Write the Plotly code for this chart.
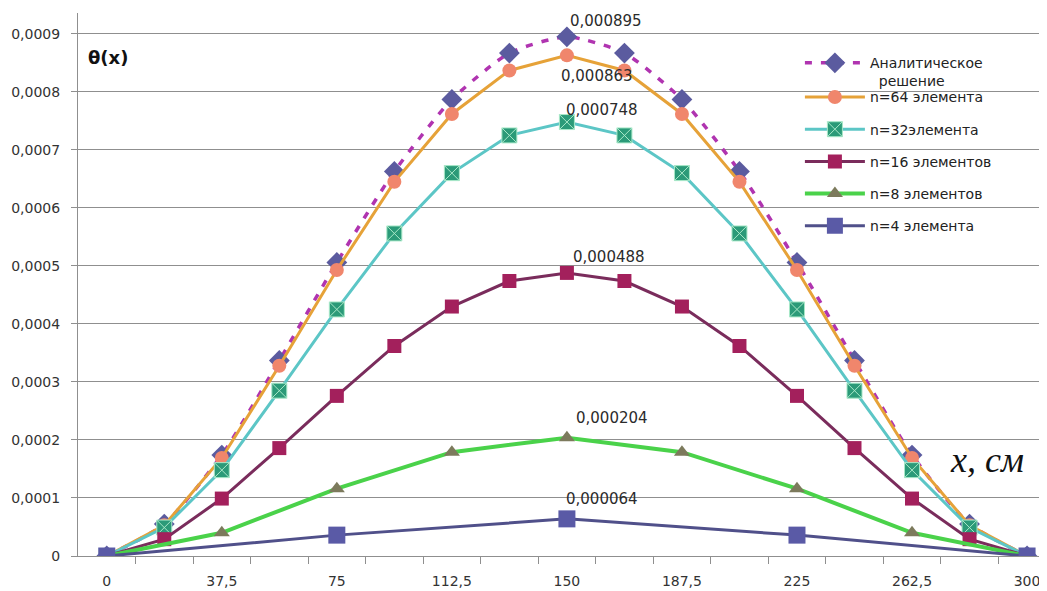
import plotly.graph_objects as go

# ---------------- data ----------------
x_nodes = [0, 18.75, 37.5, 56.25, 75, 93.75, 112.5, 131.25, 150,
           168.75, 187.5, 206.25, 225, 243.75, 262.5, 281.25, 300]

analytic = [0, 0.000055, 0.000174, 0.000337, 0.000506, 0.000663, 0.000787, 0.000867, 0.000895,
            0.000867, 0.000787, 0.000663, 0.000506, 0.000337, 0.000174, 0.000055, 0]
n64 = [0, 0.000053, 0.000169, 0.000328, 0.000493, 0.000645, 0.000762, 0.000837, 0.000863,
       0.000837, 0.000762, 0.000645, 0.000493, 0.000328, 0.000169, 0.000053, 0]
n32 = [0, 0.000049, 0.000148, 0.000285, 0.000425, 0.000556, 0.000660, 0.000725, 0.000748,
       0.000725, 0.000660, 0.000556, 0.000425, 0.000285, 0.000148, 0.000049, 0]
n16 = [0, 0.000029, 0.000099, 0.000186, 0.000276, 0.000362, 0.000430, 0.000474, 0.000488,
       0.000474, 0.000430, 0.000362, 0.000276, 0.000186, 0.000099, 0.000029, 0]
x8 = [0, 37.5, 75, 112.5, 150, 187.5, 225, 262.5, 300]
n8 = [0, 0.000040, 0.000116, 0.000179, 0.000204, 0.000179, 0.000116, 0.000040, 0]
x4 = [0, 75, 150, 225, 300]
n4 = [0, 0.000036, 0.000064, 0.000036, 0]

x_ticks = [0, 37.5, 75, 112.5, 150, 187.5, 225, 262.5, 300]
x_ticktext = ["0", "37,5", "75", "112,5", "150", "187,5", "225", "262,5", "300"]
y_ticks = [0, 0.0001, 0.0002, 0.0003, 0.0004, 0.0005, 0.0006, 0.0007, 0.0008, 0.0009]
y_ticktext = ["0", "0,0001", "0,0002", "0,0003", "0,0004", "0,0005",
              "0,0006", "0,0007", "0,0008", "0,0009"]
names = ["Аналитическое<br>\u00a0\u00a0решение", "n=64 элемента", "n=32элемента",
         "n=16 элементов", "n=8 элементов", "n=4 элемента"]

FONT = "DejaVu Sans"
GRID = "#8f8f8f"

fig = go.Figure()

fig.add_trace(go.Scatter(
    x=x_nodes, y=analytic, name=names[0], legend="legend", mode="lines+markers",
    line=dict(color="#b034b0", width=3.5, dash="7px,9px", shape="spline", smoothing=0.6),
    marker=dict(symbol="diamond", size=16, color="#5b5b9f")))
fig.add_trace(go.Scatter(
    x=x_nodes, y=n64, name=names[1], legend="legend2", legendgroup="b", mode="lines+markers",
    line=dict(color="#e6a238", width=3),
    marker=dict(symbol="circle", size=14, color="#f0866c")))
fig.add_trace(go.Scatter(
    x=x_nodes, y=n32, name=names[2], legend="legend2", legendgroup="c", mode="lines+markers",
    line=dict(color="#5cc6c6", width=3),
    marker=dict(symbol="square-x", size=15, color="#2b9a78",
                line=dict(color="#a8e8c8", width=1))))
fig.add_trace(go.Scatter(
    x=x_nodes, y=n16, name=names[3], legend="legend2", legendgroup="d", mode="lines+markers",
    line=dict(color="#7a2c5c", width=3),
    marker=dict(symbol="square", size=14, color="#a3205c")))
fig.add_trace(go.Scatter(
    x=x8, y=n8, name=names[4], legend="legend2", legendgroup="e", mode="lines+markers",
    line=dict(color="#4ad24a", width=4),
    marker=dict(symbol="triangle-up", size=14, color="#7c7a5c")))
fig.add_trace(go.Scatter(
    x=x4, y=n4, name=names[5], legend="legend2", legendgroup="f", mode="lines+markers",
    line=dict(color="#50508a", width=3),
    marker=dict(symbol="square", size=17, color="#5a5aa6")))

# data labels at the peak (x = 150)
def fmt(v):
    return f"{v:.6f}".replace(".", ",")

peak_idx = x_nodes.index(150)
labels = [
    (analytic[peak_idx], "bottom", 1, 5),
    (n64[peak_idx], "top", -8, -10),
    (n32[peak_idx], "bottom", -3, 1),
    (n16[peak_idx], "bottom", 4, 5),
    (n8[x8.index(150)], "bottom", 7, 9),
    (n4[x4.index(150)], "bottom", -3, 9),
]
for v, ya, xs, ys in labels:
    fig.add_annotation(x=150, y=v, text=fmt(v), showarrow=False,
                       xanchor="left", yanchor=ya, xshift=xs, yshift=ys,
                       font=dict(family=FONT, size=15, color="#2b2b2b"))

# axis titles
fig.add_annotation(x=0.008, y=0.918, xref="paper", yref="paper", text="<b>θ(x)</b>",
                   showarrow=False, xanchor="left", yanchor="middle",
                   font=dict(family=FONT, size=18, color="#111111"))
fig.add_annotation(x=0.898, y=0.176, xref="paper", yref="paper", text="<i>x, см</i>",
                   showarrow=False, xanchor="left", yanchor="middle",
                   font=dict(family="Liberation Serif", size=36, color="#111111"))

# white legend box behind the legends (covers gridlines) and gridline gap
fig.add_shape(type="rect", xref="paper", yref="y", x0=0.745, x1=1.0,
              y0=0.00055, y1=0.00085, fillcolor="white", line=dict(width=0),
              layer="between")
fig.add_shape(type="rect", xref="paper", yref="y", x0=0.836, x1=1.0,
              y0=0.00048, y1=0.00052, fillcolor="white", line=dict(width=0),
              layer="between")

legend_common = dict(xanchor="left", yanchor="top", bgcolor="rgba(0,0,0,0)", borderwidth=0,
                     itemwidth=60, valign="top",
                     font=dict(family=FONT, size=14, color="#222222"))

# body has an 8px default margin, so the figure is sized to fit the window
fig.update_layout(
    width=1039, height=583,
    margin=dict(l=70, r=0, t=5, b=35),
    paper_bgcolor="white", plot_bgcolor="white",
    font=dict(family=FONT, size=14, color="#333333"),
    showlegend=True,
    legend=dict(x=0.745, y=0.937, **legend_common),
    legend2=dict(x=0.745, y=0.874, tracegroupgap=11, **legend_common),
    xaxis=dict(range=[-9.375, 306.5], tickvals=x_ticks, ticktext=x_ticktext,
               ticks="outside", ticklen=7, tickcolor="rgba(0,0,0,0)",
               ticklabelstandoff=5, automargin=False,
               minor=dict(tickvals=[9.375 + 18.75 * i for i in range(16)],
                          ticks="outside", ticklen=7, tickcolor=GRID, showgrid=False),
               showgrid=False, zeroline=False, showline=True, linecolor=GRID, linewidth=1,
               tickfont=dict(family=FONT, size=14, color="#333333")),
    yaxis=dict(range=[0, 0.000936], tickvals=y_ticks, ticktext=y_ticktext,
               ticks="outside", ticklen=6, tickcolor=GRID,
               ticklabelstandoff=8, automargin=False,
               showgrid=True, gridcolor=GRID, gridwidth=1, zeroline=False,
               showline=True, linecolor=GRID, linewidth=1,
               tickfont=dict(family=FONT, size=14, color="#333333")),
)

fig.write_html("out.html")
